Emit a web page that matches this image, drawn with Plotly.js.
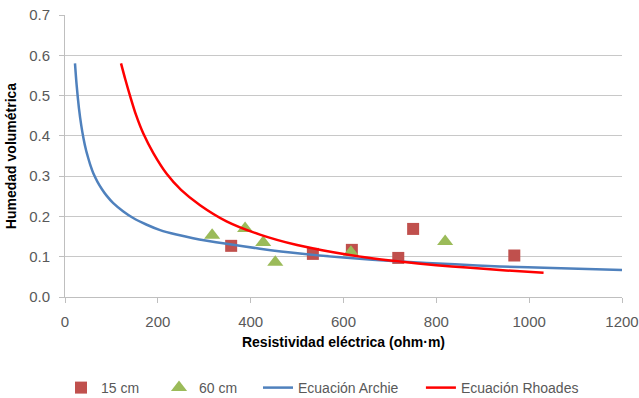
<!DOCTYPE html>
<html>
<head>
<meta charset="utf-8">
<script src="https://cdn.plot.ly/plotly-3.0.1.min.js"></script>
<style>html,body{margin:0;padding:0;background:#fff}#chart{width:639px;height:398px}</style>
</head>
<body>
<div id="chart"></div>
<script>
// Measured points
const x15 = [358, 534, 618, 718, 750, 968];
const y15 = [0.127, 0.107, 0.117, 0.097, 0.169, 0.103];
const x60 = [317, 388, 427, 453, 616, 819];
const y60 = [0.153, 0.170, 0.135, 0.086, 0.111, 0.138];
// Curves
const xArchie = [21.5, 25, 30, 35, 40, 45, 50, 55, 61, 70, 80, 90, 104, 125, 147, 175, 205, 240, 276, 348, 420, 506, 600, 722, 840, 937, 1050, 1200];
const yArchie = [0.58, 0.527, 0.469, 0.426, 0.393, 0.366, 0.345, 0.326, 0.307, 0.286, 0.267, 0.251, 0.233, 0.213, 0.196, 0.180, 0.166, 0.155, 0.146, 0.132, 0.120, 0.108, 0.098, 0.088, 0.081, 0.076, 0.072, 0.067];
const xRhoades = [120.7, 130, 140, 153, 169, 190, 219, 250, 291, 348, 420, 500, 578, 650, 722, 800, 866, 950, 1031];
const yRhoades = [0.58, 0.54, 0.50, 0.452, 0.405, 0.358, 0.306, 0.266, 0.228, 0.188, 0.155, 0.129, 0.111, 0.098, 0.088, 0.079, 0.073, 0.066, 0.060];
const seriesNames = ['15 cm', '60 cm', 'Ecuación Archie', 'Ecuación Rhoades'];

const font = 'Liberation Sans, Arial, sans-serif';
const traces = [
  {x: x15, y: y15, name: seriesNames[0], type: 'scatter', mode: 'markers', legend: 'legend',
   marker: {symbol: 'square', size: 12, color: '#c0504d'}},
  {x: x60, y: y60, name: seriesNames[1], type: 'scatter', mode: 'markers', legend: 'legend2',
   marker: {symbol: 'triangle-up', size: 14, color: '#9bbb59'}},
  {x: xArchie, y: yArchie, name: seriesNames[2], type: 'scatter', mode: 'lines', legend: 'legend3',
   line: {color: '#4f81bd', width: 2.5, shape: 'spline', smoothing: 0.8}},
  {x: xRhoades, y: yRhoades, name: seriesNames[3], type: 'scatter', mode: 'lines', legend: 'legend4',
   line: {color: '#ff0000', width: 2.5, shape: 'spline', smoothing: 0.8}}
];
const legBase = {orientation: 'h', xanchor: 'left', y: -0.3227, yanchor: 'middle',
                 font: {size: 14, color: '#595959', family: font}, bgcolor: 'rgba(0,0,0,0)'};
const layout = {
  width: 639, height: 398,
  margin: {l: 65, r: 17, t: 15, b: 101, autoexpand: false},
  paper_bgcolor: '#fff', plot_bgcolor: '#fff',
  font: {family: font, size: 14, color: '#595959'},
  showlegend: true,
  legend: Object.assign({}, legBase, {x: -0.0072}),
  legend2: Object.assign({}, legBase, {x: 0.1688}),
  legend3: Object.assign({}, legBase, {x: 0.3465}),
  legend4: Object.assign({}, legBase, {x: 0.639}),
  xaxis: {range: [0, 1200], dtick: 200, tick0: 0, showgrid: false, zeroline: false,
          showline: true, linecolor: '#bfbfbf', linewidth: 1,
          ticks: 'outside', ticklen: 5, tickcolor: '#bfbfbf', ticklabelstandoff: 6,
          tickfont: {size: 15, color: '#595959'},
          title: {text: '<b>Resistividad eléctrica (ohm·m)</b>', font: {size: 14, color: '#000'}, standoff: 8}},
  yaxis: {range: [0, 0.7], dtick: 0.1, tick0: 0, tickformat: '.1f', showgrid: true, gridcolor: '#c8c8c8',
          zeroline: false, showline: true, linecolor: '#bfbfbf', linewidth: 1,
          ticks: 'outside', ticklen: 5, tickcolor: '#bfbfbf', ticklabelstandoff: 6,
          tickfont: {size: 15, color: '#595959'},
          title: {text: '<b>Humedad volumétrica</b>', font: {size: 14, color: '#000'}, standoff: 9}}
};
Plotly.newPlot('chart', traces, layout, {displayModeBar: false, staticPlot: true});
</script>
</body>
</html>
